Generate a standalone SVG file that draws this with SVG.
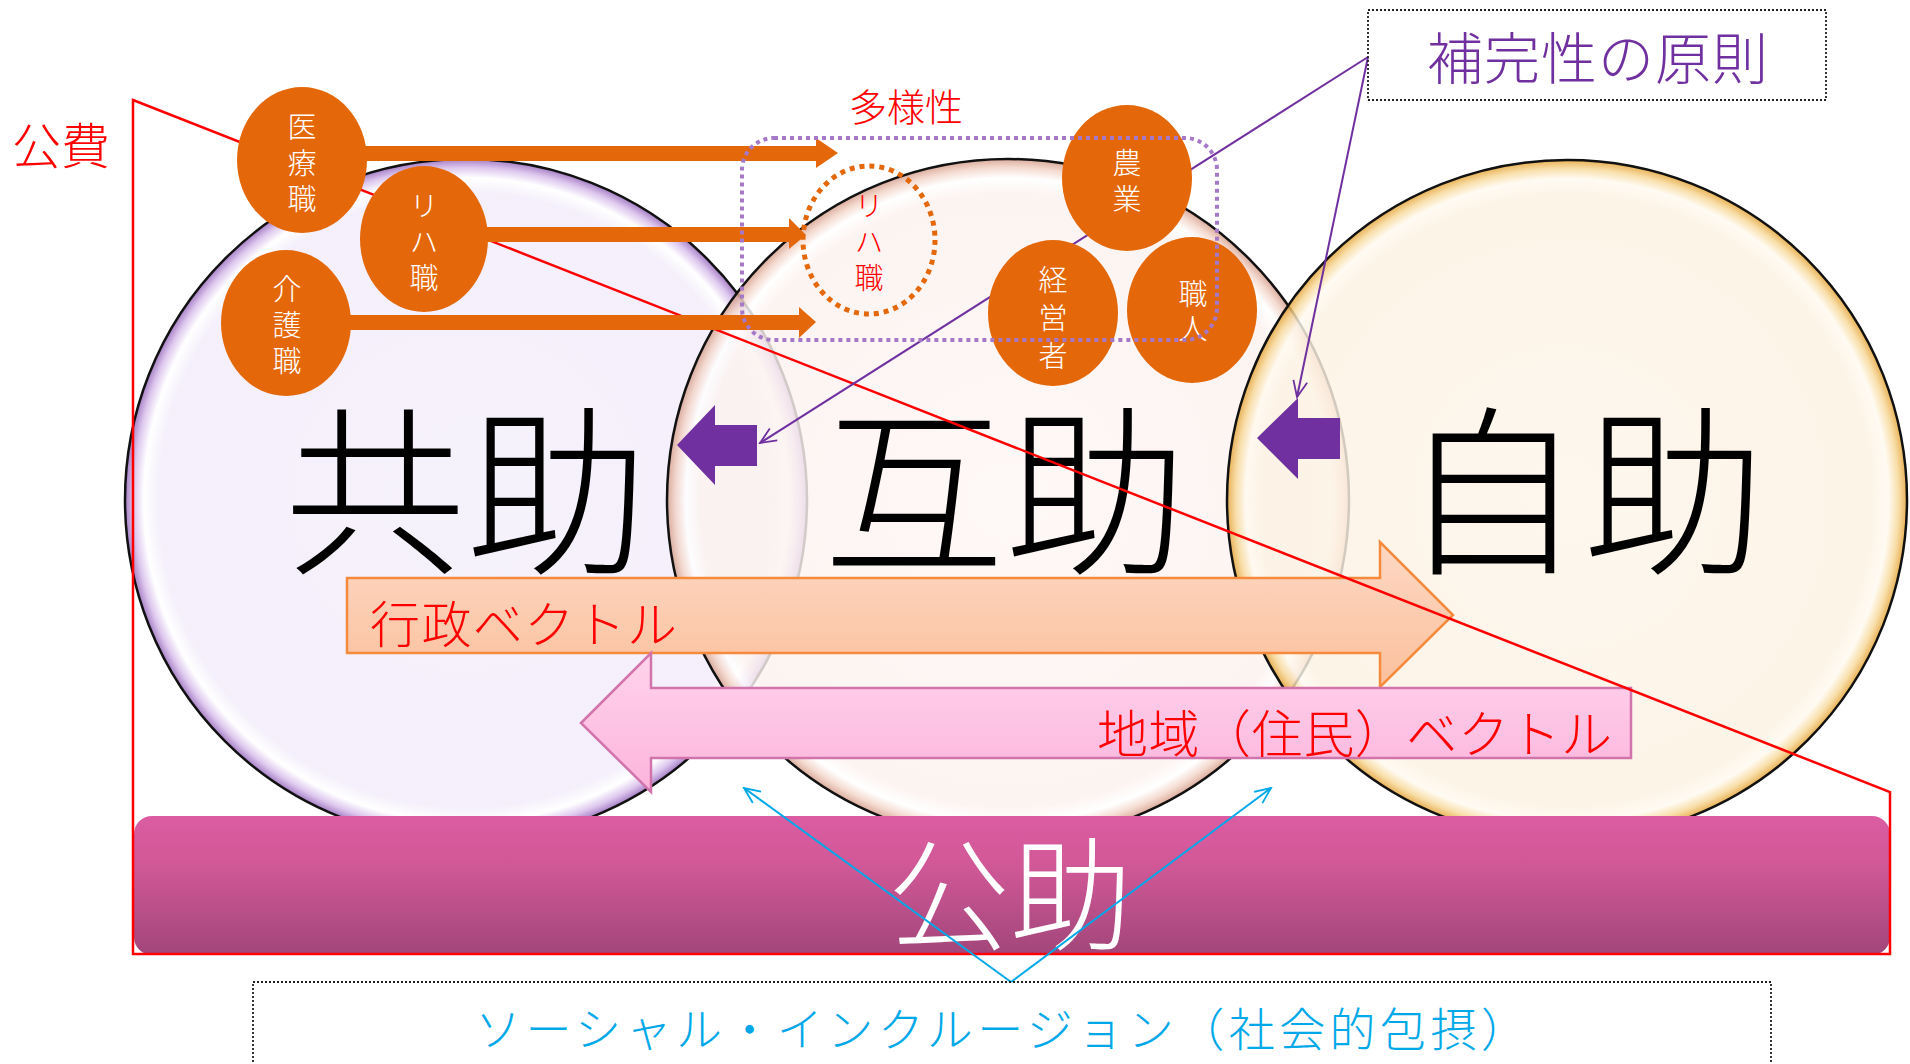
<svg xmlns="http://www.w3.org/2000/svg" width="1910" height="1064" viewBox="0 0 1910 1064">
<defs>
<radialGradient id="gL" cx="0.5" cy="0.5" r="0.5">
<stop offset="0" stop-color="#f4effb"/><stop offset="0.9" stop-color="#f2ecfa"/><stop offset="0.945" stop-color="#ffffff"/><stop offset="0.975" stop-color="#d6bbea"/><stop offset="1" stop-color="#9262b8"/>
</radialGradient>
<radialGradient id="gM" cx="0.5" cy="0.5" r="0.5">
<stop offset="0" stop-color="#fdf6f4"/><stop offset="0.9" stop-color="#fcf2ef"/><stop offset="0.945" stop-color="#ffffff"/><stop offset="0.975" stop-color="#f2d3c6"/><stop offset="1" stop-color="#d39b88"/>
</radialGradient>
<radialGradient id="gR" cx="0.5" cy="0.5" r="0.5">
<stop offset="0" stop-color="#fdf5ea"/><stop offset="0.9" stop-color="#fdf2e3"/><stop offset="0.945" stop-color="#fffaf0"/><stop offset="0.975" stop-color="#f7d898"/><stop offset="1" stop-color="#e3a030"/>
</radialGradient>
<linearGradient id="gBar" x1="0" y1="0" x2="0" y2="1">
<stop offset="0" stop-color="#db5ca2"/><stop offset="0.35" stop-color="#d15897"/><stop offset="1" stop-color="#a2467a"/>
</linearGradient>
<linearGradient id="gGyo" x1="0" y1="0" x2="0" y2="1">
<stop offset="0" stop-color="#fdd8c4"/><stop offset="1" stop-color="#fbc09c"/>
</linearGradient>
<linearGradient id="gChi" x1="0" y1="0" x2="0" y2="1">
<stop offset="0" stop-color="#ffd3ec"/><stop offset="1" stop-color="#fcb4dc"/>
</linearGradient>
<marker id="mP" viewBox="0 0 20 20" refX="18" refY="10" markerWidth="20" markerHeight="20" markerUnits="userSpaceOnUse" orient="auto">
<path d="M2,3 L18,10 L2,17" fill="none" stroke="#7030a0" stroke-width="1.8"/>
</marker>
<marker id="mB" viewBox="0 0 20 20" refX="18" refY="10" markerWidth="20" markerHeight="20" markerUnits="userSpaceOnUse" orient="auto">
<path d="M2,3 L18,10 L2,17" fill="none" stroke="#00a8e8" stroke-width="1.8"/>
</marker>
</defs>
<style>
text{font-family:"Noto Sans CJK JP","Noto Sans CJK SC",sans-serif;}
.big{font-size:182px;fill:#000;text-anchor:middle;font-weight:300;}
.circ{stroke:#111;stroke-width:2.5;fill-opacity:0.82;}
.bub{fill:#e4680a;}
.bt{font-size:29px;fill:#ffffff;text-anchor:middle;font-weight:300;writing-mode:vertical-rl;letter-spacing:7px;}
.red{fill:#ff0000;}
.oarrow{fill:#e4680a;}
.parrow{fill:#7030a0;}
</style>
<rect width="1910" height="1064" fill="#ffffff"/>

<g id="circle-kyojo"><circle class="circ" cx="466" cy="500" r="341" fill="url(#gL)"/></g>
<g id="circle-gojo"><circle class="circ" cx="1008" cy="500" r="341" fill="url(#gM)"/></g>
<g id="circle-jijo"><circle class="circ" cx="1567" cy="500" r="340" fill="url(#gR)"/></g>

<g id="label-kyojo"><text class="big" x="466" y="560">共助</text></g>
<g id="label-gojo"><text class="big" x="1005" y="560">互助</text></g>
<g id="label-jijo"><text class="big" x="1583" y="560">自助</text></g>

<g id="bar-kojo">
<rect x="134" y="816" width="1756" height="139" rx="18" fill="url(#gBar)"/>
<text x="1010" y="940" font-size="122" fill="#ffffff" text-anchor="middle" font-weight="300">公助</text>
</g>

<g id="arrow-gyosei">
<path d="M347,578 L1380,578 L1380,542 L1453,615 L1380,687 L1380,653 L347,653 Z" fill="url(#gGyo)" stroke="#f68a3c" stroke-width="2.5"/>
<text x="370" y="643" font-size="50" class="red" font-weight="300" textLength="307" lengthAdjust="spacing">行政ベクトル</text>
</g>
<g id="arrow-chiiki">
<path d="M581,723 L651,653 L651,688 L1631,688 L1631,758 L651,758 L651,792 Z" fill="url(#gChi)" stroke="#d274ac" stroke-width="2.5"/>
<text x="1097" y="753" font-size="51" class="red" font-weight="300" textLength="515" lengthAdjust="spacing">地域（住民）ベクトル</text>
</g>

<g id="purple-arrow-left"><path class="parrow" d="M677,445 L715,405 L715,425 L757,425 L757,466 L715,466 L715,485 Z"/></g>
<g id="purple-arrow-right"><path class="parrow" d="M1257,438 L1298,398 L1298,418 L1340,418 L1340,459 L1298,459 L1298,479 Z"/></g>

<g id="kohi">
<polygon points="133,100 1890,792 1890,954 133,954" fill="none" stroke="#ff0000" stroke-width="2.5"/>
<text x="12" y="164" font-size="49" class="red" font-weight="300">公費</text>
</g>

<g id="connectors" fill="none">
<line x1="1368" y1="57" x2="760" y2="443" stroke="#7030a0" stroke-width="2" marker-end="url(#mP)"/>
<line x1="1368" y1="57" x2="1297" y2="397" stroke="#7030a0" stroke-width="2" marker-end="url(#mP)"/>
<line x1="1011" y1="982" x2="744" y2="788" stroke="#00a8e8" stroke-width="2" marker-end="url(#mB)"/>
<line x1="1011" y1="982" x2="1271" y2="788" stroke="#00a8e8" stroke-width="2" marker-end="url(#mB)"/>
</g>

<g id="orange-arrows">
<path class="oarrow" d="M360,146 L816,146 L816,138 L838,153 L816,168 L816,161 L360,161 Z"/>
<path class="oarrow" d="M480,227 L789,227 L789,218 L806,235 L789,249 L789,242 L480,242 Z"/>
<path class="oarrow" d="M345,315 L799,315 L799,307 L816,322 L799,338 L799,330 L345,330 Z"/>
</g>

<g id="node-iryo"><ellipse class="bub" cx="302" cy="160" rx="65" ry="73"/>
<text class="bt" x="302" y="166">医療職</text></g>
<g id="node-riha"><ellipse class="bub" cx="424" cy="239" rx="64" ry="73"/>
<text class="bt" x="424" y="245">リハ職</text></g>
<g id="node-kaigo"><ellipse class="bub" cx="286" cy="323" rx="65" ry="73"/>
<text class="bt" x="287" y="328">介護職</text></g>

<g id="node-riha2"><ellipse cx="869" cy="240" rx="66" ry="74" fill="none" stroke="#e4680a" stroke-width="5" stroke-dasharray="5 5"/>
<text class="bt" x="869" y="245" style="fill:#ff0000">リハ職</text></g>

<g id="node-nogyo"><ellipse class="bub" cx="1127" cy="178" rx="65" ry="73"/>
<text class="bt" x="1127" y="184">農業</text></g>
<g id="node-keiei"><ellipse class="bub" cx="1053" cy="313" rx="65" ry="73"/>
<text class="bt" x="1053" y="322" style="letter-spacing:9px">経営者</text></g>
<g id="node-shokunin"><ellipse class="bub" cx="1192" cy="310" rx="65" ry="73"/>
<text class="bt" x="1193" y="314" style="letter-spacing:6px">職人</text></g>

<g id="tayosei">
<rect x="742" y="138" width="475" height="202" rx="32" fill="none" stroke="#a678c8" stroke-width="4" stroke-dasharray="4 4"/>
<text x="906" y="121" font-size="38" class="red" text-anchor="middle" font-weight="300">多様性</text>
</g>

<g id="hokansei">
<rect x="1368" y="10" width="458" height="90" fill="none" stroke="#222" stroke-width="1.8" stroke-dasharray="2 2"/>
<text x="1427" y="79" font-size="56" fill="#7030a0" font-weight="300" textLength="341" lengthAdjust="spacing">補完性の原則</text>
</g>

<g id="social-inclusion">
<rect x="253" y="982" width="1518" height="100" fill="none" stroke="#222" stroke-width="1.8" stroke-dasharray="2 2"/>
<text x="475" y="1046" font-size="46" fill="#00a8e8" font-weight="300" textLength="1052" lengthAdjust="spacing">ソーシャル・インクルージョン（社会的包摂）</text>
</g>
</svg>
